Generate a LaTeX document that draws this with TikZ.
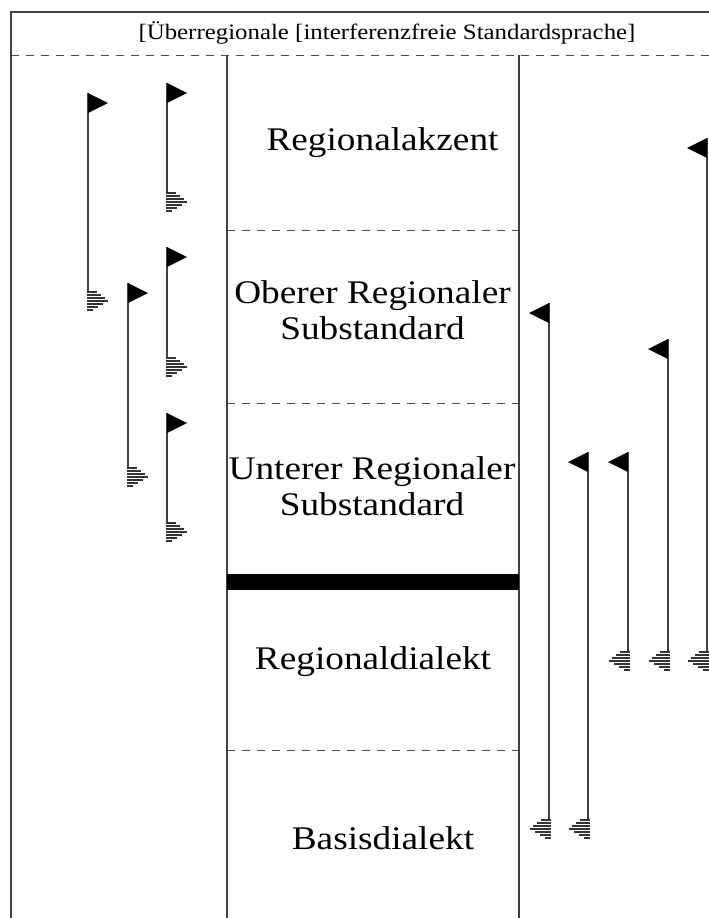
\documentclass[tikz,border=0pt]{standalone}
\usepackage{fontspec}
\setmainfont{Liberation Serif}
\usepackage{graphicx}
\newcommand\myflag[4]{% #1 x, #2 top, #3 hatch top, #4 direction (1 right, -1 left)
  \draw[pole] (#1,#2) -- (#1,#3);
  \fill[flagfill] (#1,#2) -- ++(#4*20,10) -- (#1,#2+20) -- cycle;
  \foreach \i/\l in {0/10,3/14,6/18,9/21,12/16,15/11,18/6}
    \draw[hatchline] (#1-#4*1.5,#3+\i) -- ++(#4*\l,0);
}
\newcommand\bigfont{\fontsize{33}{36}\selectfont}
\newcommand\headfont{\fontsize{22}{26}\selectfont}
\begin{document}
\begin{tikzpicture}[x=1pt,y=-1pt,
  frame/.style={line width=1.6pt,draw=black!75},
  dashline/.style={line width=1pt,draw=black!70,dash pattern=on 8pt off 7pt},
  pole/.style={line width=1.6pt,draw=black!75},
  flagfill/.style={fill=black},
  hatchline/.style={line width=1.1pt,draw=black!80},
  label/.style={inner sep=0pt,anchor=base,font=\bigfont},
  mlabel/.style={inner sep=0pt,anchor=center,font=\bigfont}]
\useasboundingbox (0,0) rectangle (709,918);
\fill[white] (0,0) rectangle (709,918);
% outer frame
\draw[frame] (11,918) -- (11,12) -- (709,12);
\draw[dashline] (11,55) -- (709,55);
% header
\node[inner sep=0pt,anchor=base,font=\headfont] (head) at (387,39)
  {\scalebox{1.13}[1]{[Überregionale [interferenzfreie Standardsprache]}};
% column lines
\coordinate (lt) at (227,55); \coordinate (lb) at (227,918);
\coordinate (rt) at (519,55); \coordinate (rb) at (519,918);
\draw[frame] (lt) -- (lb);
\draw[frame] (rt) -- (rb);
% inner separators
\draw[dashline] (227,230) -- (519,230);
\draw[dashline] (227,403) -- (519,403);
\draw[dashline] (227,750) -- (519,750);
\fill[black] (227,574) rectangle (519,590);
% labels
\node[label] (ra) at (382.5,150) {\scalebox{1.13}[1]{Regionalakzent}};
\node[mlabel] (ors) at (372.5,314) {\scalebox{1.13}[1]{\begin{tabular}{@{}c@{}}Oberer Regionaler\\Substandard\end{tabular}}};
\node[mlabel] (urs) at (372,490) {\scalebox{1.13}[1]{\begin{tabular}{@{}c@{}}Unterer Regionaler\\Substandard\end{tabular}}};
\node[label] (rd) at (373,669) {\scalebox{1.13}[1]{Regionaldialekt}};
\node[label] (bd) at (383,849) {\scalebox{1.13}[1]{Basisdialekt}};
% left flags
\myflag{88}{93}{292}{1}
\myflag{167}{83}{193}{1}
\myflag{128}{283}{468}{1}
\myflag{167}{247}{358}{1}
\myflag{167}{413}{523}{1}
% right flags
\myflag{549}{303}{820}{-1}
\myflag{588}{452}{820}{-1}
\myflag{628}{452}{652}{-1}
\myflag{668}{339}{652}{-1}
\myflag{707}{138}{652}{-1}
\end{tikzpicture}
\end{document}
